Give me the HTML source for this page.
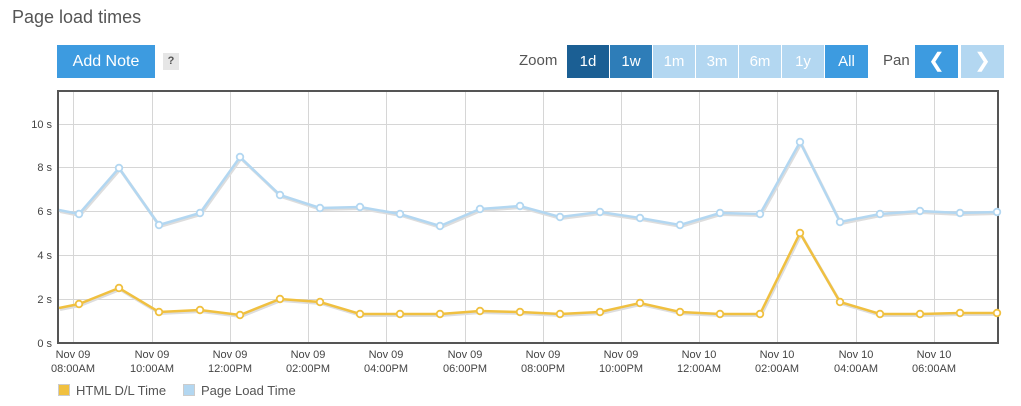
<!DOCTYPE html>
<html><head><meta charset="utf-8"><style>
body{margin:0;background:#fff;font-family:"Liberation Sans",sans-serif;}
.t{position:absolute;left:12px;top:7px;font-size:18px;color:#555;}
.btn{position:absolute;height:33px;line-height:33px;color:#fff;text-align:center;font-size:15px;}
</style></head><body>
<div style="position:relative;width:1021px;height:406px;overflow:hidden">
<div class="t">Page load times</div>
<div class="btn" style="left:57px;top:45px;width:98px;background:#3d9be0;font-size:16px">Add Note</div>
<div style="position:absolute;left:163px;top:53px;width:16px;height:17px;background:#e6e6e6;color:#555;font-size:11px;text-align:center;line-height:17px;font-weight:bold">?</div>
<div style="position:absolute;left:519px;top:52px;font-size:15px;color:#555">Zoom</div>
<div class="btn" style="left:567px;top:45px;width:42px;background:#1b5f94">1d</div>
<div class="btn" style="left:610px;top:45px;width:42px;background:#2e7db8">1w</div>
<div class="btn" style="left:653px;top:45px;width:42px;background:#b3d7f1">1m</div>
<div class="btn" style="left:696px;top:45px;width:42px;background:#b3d7f1">3m</div>
<div class="btn" style="left:739px;top:45px;width:42px;background:#b3d7f1">6m</div>
<div class="btn" style="left:782px;top:45px;width:42px;background:#b3d7f1">1y</div>
<div class="btn" style="left:825px;top:45px;width:43px;background:#3d9be0">All</div>
<div style="position:absolute;left:883px;top:52px;font-size:15px;color:#555">Pan</div>
<div class="btn" style="left:915px;top:45px;width:43px;background:#3d9be0;font-size:20px">&#x276E;</div>
<div class="btn" style="left:961px;top:45px;width:43px;background:#b3d7f1;font-size:20px">&#x276F;</div>
<svg style="position:absolute;left:0;top:0" width="1021" height="406" font-family="Liberation Sans, sans-serif">
<g stroke="#d6d6d6" stroke-width="1">
<line x1="58" x2="998" y1="124.5" y2="124.5"/><line x1="58" x2="998" y1="167.5" y2="167.5"/><line x1="58" x2="998" y1="211.5" y2="211.5"/><line x1="58" x2="998" y1="255.5" y2="255.5"/><line x1="58" x2="998" y1="299.5" y2="299.5"/>
<line x1="73.5" x2="73.5" y1="91" y2="343"/><line x1="152.5" x2="152.5" y1="91" y2="343"/><line x1="230.5" x2="230.5" y1="91" y2="343"/><line x1="308.5" x2="308.5" y1="91" y2="343"/><line x1="386.5" x2="386.5" y1="91" y2="343"/><line x1="465.5" x2="465.5" y1="91" y2="343"/><line x1="543.5" x2="543.5" y1="91" y2="343"/><line x1="621.5" x2="621.5" y1="91" y2="343"/><line x1="699.5" x2="699.5" y1="91" y2="343"/><line x1="777.5" x2="777.5" y1="91" y2="343"/><line x1="856.5" x2="856.5" y1="91" y2="343"/><line x1="934.5" x2="934.5" y1="91" y2="343"/>
</g>
<rect x="58" y="91" width="940" height="252" fill="none" stroke="#555" stroke-width="2"/>
<g font-size="11" fill="#444" text-anchor="end">
<text x="52" y="128">10 s</text><text x="52" y="171">8 s</text><text x="52" y="215">6 s</text><text x="52" y="259">4 s</text><text x="52" y="303">2 s</text><text x="52" y="347">0 s</text>
</g>
<g font-size="11" fill="#444" text-anchor="middle">
<text x="73" y="358">Nov 09</text><text x="73" y="372">08:00AM</text>
<text x="152" y="358">Nov 09</text><text x="152" y="372">10:00AM</text>
<text x="230" y="358">Nov 09</text><text x="230" y="372">12:00PM</text>
<text x="308" y="358">Nov 09</text><text x="308" y="372">02:00PM</text>
<text x="386" y="358">Nov 09</text><text x="386" y="372">04:00PM</text>
<text x="465" y="358">Nov 09</text><text x="465" y="372">06:00PM</text>
<text x="543" y="358">Nov 09</text><text x="543" y="372">08:00PM</text>
<text x="621" y="358">Nov 09</text><text x="621" y="372">10:00PM</text>
<text x="699" y="358">Nov 10</text><text x="699" y="372">12:00AM</text>
<text x="777" y="358">Nov 10</text><text x="777" y="372">02:00AM</text>
<text x="856" y="358">Nov 10</text><text x="856" y="372">04:00AM</text>
<text x="934" y="358">Nov 10</text><text x="934" y="372">06:00AM</text>
</g>
<polyline fill="none" stroke="#ddd" stroke-width="3" transform="translate(1,1.5)" points="59,210 79,214 119,168 159,225 200,213 240,157 280,195 320,208 360,207 400,214 440,226 480,209 520,206 560,217 600,212 640,218 680,225 720,213 760,214 800,142 840,222 880,214 920,211 960,213 997,212"/>
<polyline fill="none" stroke="#b3d7f1" stroke-width="2.5" points="59,210 79,214 119,168 159,225 200,213 240,157 280,195 320,208 360,207 400,214 440,226 480,209 520,206 560,217 600,212 640,218 680,225 720,213 760,214 800,142 840,222 880,214 920,211 960,213 997,212"/>
<polyline fill="none" stroke="#ddd" stroke-width="3" transform="translate(1,1.5)" points="59,308 79,304 119,288 159,312 200,310 240,315 280,299 320,302 360,314 400,314 440,314 480,311 520,312 560,314 600,312 640,303 680,312 720,314 760,314 800,233 840,302 880,314 920,314 960,313 997,313"/>
<polyline fill="none" stroke="#f0c040" stroke-width="2.5" points="59,308 79,304 119,288 159,312 200,310 240,315 280,299 320,302 360,314 400,314 440,314 480,311 520,312 560,314 600,312 640,303 680,312 720,314 760,314 800,233 840,302 880,314 920,314 960,313 997,313"/>
<g fill="#fff" stroke="#b3d7f1" stroke-width="1.8">
<circle cx="79" cy="214" r="3.3"/><circle cx="119" cy="168" r="3.3"/><circle cx="159" cy="225" r="3.3"/><circle cx="200" cy="213" r="3.3"/><circle cx="240" cy="157" r="3.3"/><circle cx="280" cy="195" r="3.3"/><circle cx="320" cy="208" r="3.3"/><circle cx="360" cy="207" r="3.3"/><circle cx="400" cy="214" r="3.3"/><circle cx="440" cy="226" r="3.3"/><circle cx="480" cy="209" r="3.3"/><circle cx="520" cy="206" r="3.3"/><circle cx="560" cy="217" r="3.3"/><circle cx="600" cy="212" r="3.3"/><circle cx="640" cy="218" r="3.3"/><circle cx="680" cy="225" r="3.3"/><circle cx="720" cy="213" r="3.3"/><circle cx="760" cy="214" r="3.3"/><circle cx="800" cy="142" r="3.3"/><circle cx="840" cy="222" r="3.3"/><circle cx="880" cy="214" r="3.3"/><circle cx="920" cy="211" r="3.3"/><circle cx="960" cy="213" r="3.3"/><circle cx="997" cy="212" r="3.3"/>
</g>
<g fill="#fff" stroke="#f0c040" stroke-width="1.8">
<circle cx="79" cy="304" r="3.3"/><circle cx="119" cy="288" r="3.3"/><circle cx="159" cy="312" r="3.3"/><circle cx="200" cy="310" r="3.3"/><circle cx="240" cy="315" r="3.3"/><circle cx="280" cy="299" r="3.3"/><circle cx="320" cy="302" r="3.3"/><circle cx="360" cy="314" r="3.3"/><circle cx="400" cy="314" r="3.3"/><circle cx="440" cy="314" r="3.3"/><circle cx="480" cy="311" r="3.3"/><circle cx="520" cy="312" r="3.3"/><circle cx="560" cy="314" r="3.3"/><circle cx="600" cy="312" r="3.3"/><circle cx="640" cy="303" r="3.3"/><circle cx="680" cy="312" r="3.3"/><circle cx="720" cy="314" r="3.3"/><circle cx="760" cy="314" r="3.3"/><circle cx="800" cy="233" r="3.3"/><circle cx="840" cy="302" r="3.3"/><circle cx="880" cy="314" r="3.3"/><circle cx="920" cy="314" r="3.3"/><circle cx="960" cy="313" r="3.3"/><circle cx="997" cy="313" r="3.3"/>
</g>
<rect x="58.5" y="384.5" width="11" height="11" fill="#f0c040" stroke="#ccc"/>
<text x="76" y="395" font-size="13" fill="#555">HTML D/L Time</text>
<rect x="183.5" y="384.5" width="11" height="11" fill="#b3d7f1" stroke="#ccc"/>
<text x="201" y="395" font-size="13" fill="#555">Page Load Time</text>
</svg>
</div>
</body></html>
